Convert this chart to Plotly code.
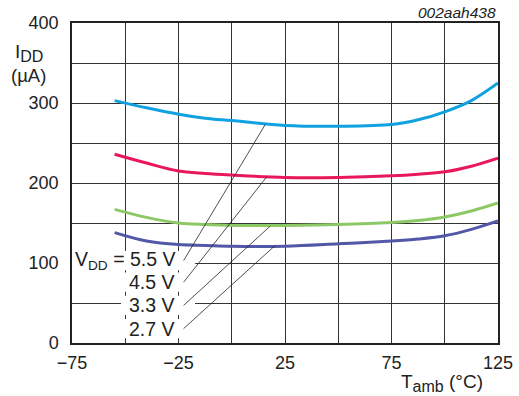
import plotly.graph_objects as go

FONT = "Liberation Sans, Arial, sans-serif"
GRID = "#333333"
TXT = "#222222"

temp = [-55, -40, -25, -12.5, 0, 25, 50, 75, 87.5, 100, 112.5, 125]
idd_55 = [303, 294, 286, 281, 278, 272, 271, 273, 279, 289, 303, 325]
idd_45 = [236, 225, 215, 212, 210, 207, 207, 209, 211, 214, 221, 231]
idd_33 = [167, 157, 150, 148, 147, 147, 148, 150.5, 153, 157.5, 165, 175]
idd_27 = [138, 127.5, 123, 122, 121, 121, 124, 127.5, 130, 134, 142, 152.5]

series = [
    ("5.5 V", idd_55, "#0fa1e0"),
    ("4.5 V", idd_45, "#e8185a"),
    ("3.3 V", idd_33, "#8dc866"),
    ("2.7 V", idd_27, "#5258a8"),
]

label_text = ["V<sub>DD</sub> = 5.5 V", "4.5 V", "3.3 V", "2.7 V"]
label_y = [103, 76, 47, 18]
leader_end_x = [15.7, 16.5, 18, 20.4]
leader_end_y = [273, 208, 146, 122]

fig = go.Figure()
for name, ys, col in series:
    fig.add_trace(
        go.Scatter(
            x=temp, y=ys, name=name, mode="lines",
            line=dict(color=col, width=3, shape="spline", smoothing=1.0),
            showlegend=False,
        )
    )

shapes = []
# white boxes behind the labels (they cut the grid)
box_left = [-75, -52, -52, -52]
for bl, ly in zip(box_left, label_y):
    shapes.append(dict(type="rect", xref="x", yref="y", x0=bl, x1=-17.2,
                       y0=ly - 12, y1=ly + 12, fillcolor="white",
                       line=dict(width=0), layer="above"))
for ly, ex, ey in zip(label_y, leader_end_x, leader_end_y):
    shapes.append(dict(type="line", xref="x", yref="y", x0=-22.6, y0=ly,
                       x1=ex, y1=ey, line=dict(color=TXT, width=0.8),
                       layer="above"))

annotations = []
for t, ly in zip(label_text, label_y):
    annotations.append(dict(x=-25.5, y=ly, xref="x", yref="y", text=t,
                            showarrow=False, xanchor="right", yanchor="middle",
                            font=dict(size=19.5, color=TXT, family=FONT)))
annotations += [
    dict(text="I<sub><span style='font-size:16px'>DD</span></sub>",
         x=-0.102, y=0.905, xref="paper", yref="paper",
         xanchor="center", yanchor="middle", showarrow=False,
         font=dict(size=19, color=TXT, family=FONT)),
    dict(text="(µA)", x=-0.102, y=0.835, xref="paper", yref="paper",
         xanchor="center", yanchor="middle", showarrow=False,
         font=dict(size=18.5, color=TXT, family=FONT)),
    dict(text="T<sub><span style='font-size:16px'>amb</span></sub> (°C)",
         x=0.969, y=-0.08, xref="paper", yref="paper",
         xanchor="right", yanchor="top", showarrow=False,
         font=dict(size=19, color=TXT, family=FONT)),
    dict(text="<i>002aah438</i>", x=1.0, y=1.0, xref="paper", yref="paper",
         xanchor="right", yanchor="bottom", showarrow=False,
         font=dict(size=15.5, color=TXT, family=FONT)),
]

fig.update_layout(
    width=519, height=396,
    paper_bgcolor="white", plot_bgcolor="white",
    margin=dict(l=72, r=21, t=23, b=53),
    font=dict(family=FONT, size=18, color=TXT),
    shapes=shapes,
    annotations=annotations,
    xaxis=dict(
        range=[-75, 125], automargin=False,
        tickvals=[-75, -50, -25, 0, 25, 50, 75, 100, 125],
        ticktext=["\u221275", "", "\u221225", "", "25", "", "75", "", "125"],
        showgrid=True, gridcolor=GRID, gridwidth=1,
        showline=True, linecolor=TXT, linewidth=1.5, mirror=True,
        zeroline=False, ticks="outside", ticklen=3, tickcolor="white",
    ),
    yaxis=dict(
        range=[0, 400], automargin=False,
        tickvals=[0, 50, 100, 150, 200, 250, 300, 350, 400],
        ticktext=["0", "", "100", "", "200", "", "300", "", "400"],
        showgrid=True, gridcolor=GRID, gridwidth=1,
        showline=True, linecolor=TXT, linewidth=1.5, mirror=True,
        zeroline=False, ticks="outside", ticklen=8, tickcolor="white",
    ),
)

# drop the page's default body margin so the figure sits at 0,0
fig.write_html("out.html", config=dict(displayModeBar=False),
               post_script="document.body.style.margin='0';")
